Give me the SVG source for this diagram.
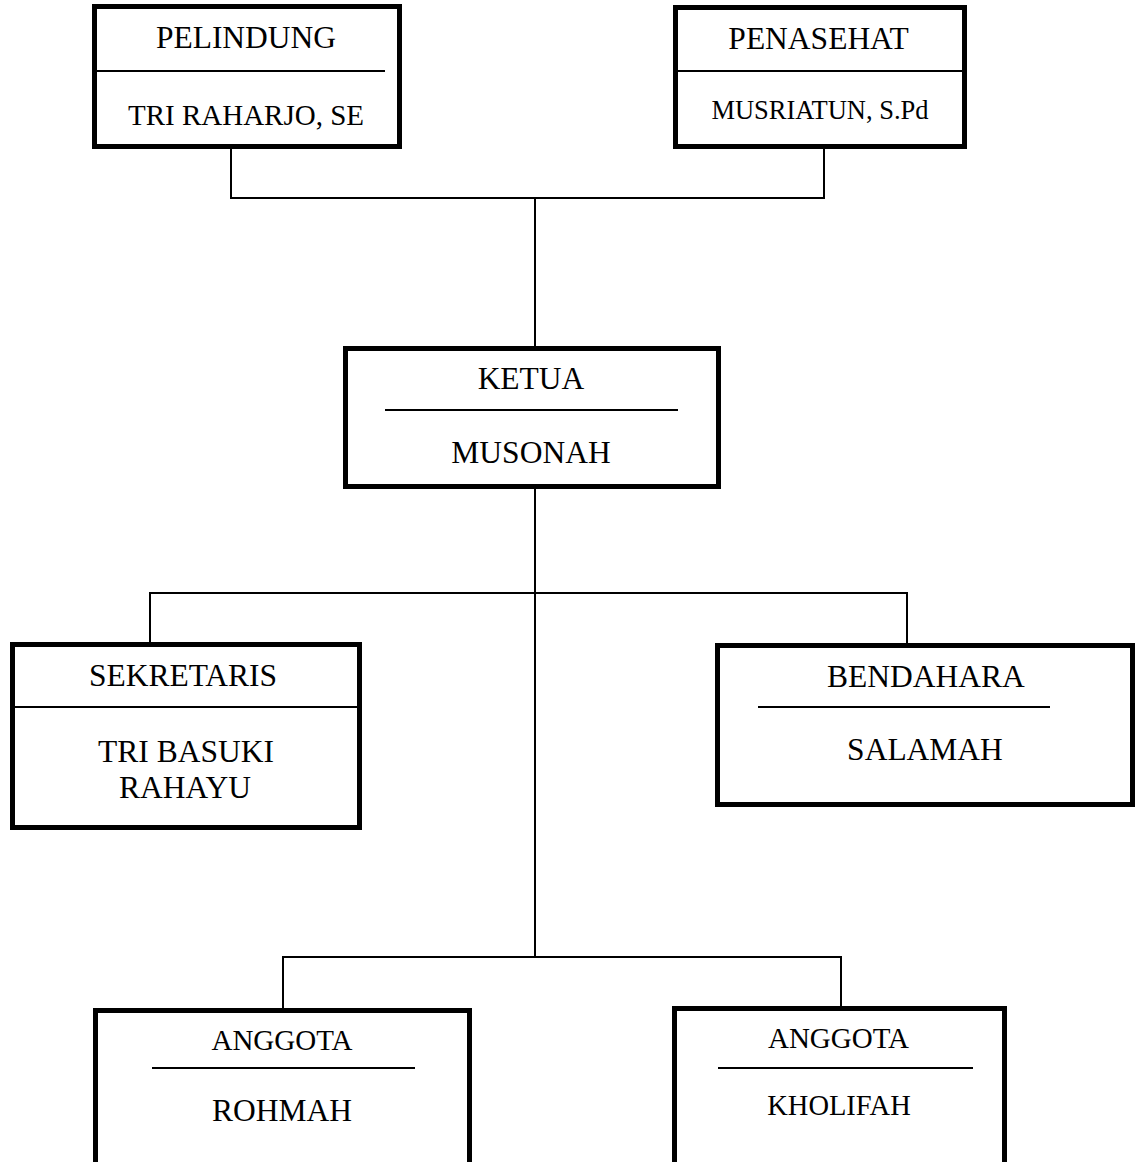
<svg xmlns="http://www.w3.org/2000/svg" width="1137" height="1162" viewBox="0 0 1137 1162">
<style>
.box{fill:#fff;stroke:#000;stroke-width:5}
.div{stroke:#000;stroke-width:2}
.con{stroke:#000;stroke-width:2;fill:none}
text{font-family:"Liberation Serif","Times New Roman",serif;fill:#000;text-anchor:middle}
.t{font-size:31.5px}
</style>
<rect width="1137" height="1162" fill="#fff"/>
<g id="connectors">
<line class="con" x1="231" y1="149" x2="231" y2="198"/>
<line class="con" x1="824" y1="149" x2="824" y2="198"/>
<line class="con" x1="230" y1="198" x2="825" y2="198"/>
<line class="con" x1="535" y1="198" x2="535" y2="346"/>
<line class="con" x1="535" y1="489" x2="535" y2="957"/>
<line class="con" x1="149" y1="593" x2="908" y2="593"/>
<line class="con" x1="150" y1="593" x2="150" y2="642"/>
<line class="con" x1="907" y1="593" x2="907" y2="643"/>
<line class="con" x1="282" y1="957" x2="842" y2="957"/>
<line class="con" x1="283" y1="957" x2="283" y2="1008"/>
<line class="con" x1="841" y1="957" x2="841" y2="1006"/>
</g>
<g id="pelindung">
<rect class="box" x="94.5" y="6.5" width="305" height="140"/>
<line class="div" x1="95" y1="71" x2="385" y2="71"/>
<text class="t" x="246" y="48">PELINDUNG</text>
<text x="246" y="125" font-size="29">TRI RAHARJO, SE</text>
</g>
<g id="penasehat">
<rect class="box" x="675.5" y="7.5" width="289" height="139"/>
<line class="div" x1="676" y1="71" x2="964" y2="71"/>
<text class="t" x="818.5" y="49">PENASEHAT</text>
<text x="820" y="119" font-size="26.5">MUSRIATUN, S.Pd</text>
</g>
<g id="ketua">
<rect class="box" x="345.5" y="348.5" width="373" height="138"/>
<line class="div" x1="385" y1="410" x2="678" y2="410"/>
<text class="t" x="531" y="389">KETUA</text>
<text class="t" x="531" y="463">MUSONAH</text>
</g>
<g id="sekretaris">
<rect class="box" x="12.5" y="644.5" width="347" height="183"/>
<line class="div" x1="13" y1="707" x2="359" y2="707"/>
<text class="t" x="183" y="686">SEKRETARIS</text>
<text class="t" x="186" y="762">TRI BASUKI</text>
<text class="t" x="185" y="798">RAHAYU</text>
</g>
<g id="bendahara">
<rect class="box" x="717.5" y="645.5" width="415" height="159"/>
<line class="div" x1="758" y1="707" x2="1050" y2="707"/>
<text class="t" x="926" y="687">BENDAHARA</text>
<text class="t" x="925" y="760">SALAMAH</text>
</g>
<g id="anggota-rohmah">
<rect class="box" x="95.5" y="1010.5" width="374" height="175"/>
<line class="div" x1="152" y1="1068" x2="415" y2="1068"/>
<text x="282" y="1050" font-size="29">ANGGOTA</text>
<text class="t" x="282" y="1121">ROHMAH</text>
</g>
<g id="anggota-kholifah">
<rect class="box" x="674.5" y="1008.5" width="330" height="175"/>
<line class="div" x1="718" y1="1068" x2="973" y2="1068"/>
<text x="838.5" y="1048" font-size="29">ANGGOTA</text>
<text x="839" y="1115" font-size="28.5">KHOLIFAH</text>
</g>
</svg>
